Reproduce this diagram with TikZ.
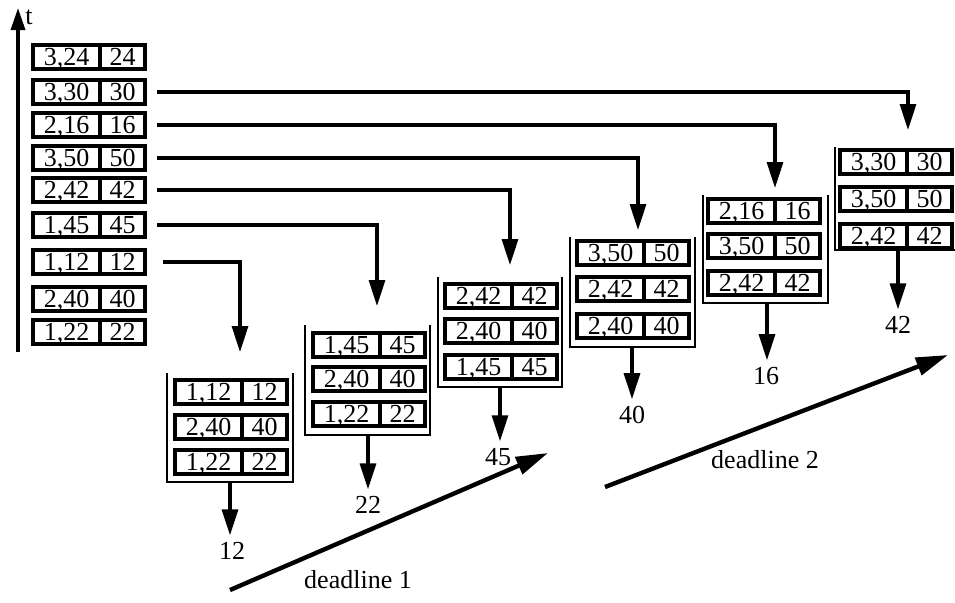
\documentclass[tikz,border=0pt]{standalone}
\usepackage{fontspec}
\setmainfont{Liberation Serif}
\usetikzlibrary{arrows.meta, positioning}

% one key/value entry: name, x (left edge), y (centre), key, value
\newcommand{\slot}[5]{%
  \node[keycell] (#1) at (#2,#3) {#4};
  \node[valcell, right=0pt of #1] (#1v) {#5};}

\begin{document}
\begin{tikzpicture}[x=0.5pt, y=-0.5pt, font=\fontsize{13}{15}\selectfont,
  cell/.style={draw, line width=1.7pt, minimum height=12pt, inner sep=0pt,
    outer sep=0pt, text height=8.6pt, text depth=0pt},
  keycell/.style={cell, anchor=west, minimum width=33.5pt},
  valcell/.style={cell, minimum width=22.5pt},
  feed/.style={line width=1.6pt, -{Triangle[length=13pt, width=8pt]}},
  bracket/.style={line width=1.1pt},
  deadline/.style={line width=2.2pt, -{Triangle[length=16pt, width=9pt]}}]
  \useasboundingbox (0,0) rectangle (955,602);

  % time axis
  \coordinate (t0) at (18,352);
  \coordinate (t1) at (18,8);
  \node (t) at (29,17) {t};
  \draw[line width=1.7pt, -{Triangle[length=11pt, width=7pt]}] (t0) -- (t1);

  % arrival column
  \slot{c24}{33}{57}{3,24}{24}
  \slot{c30}{33}{92}{3,30}{30}
  \slot{c16}{33}{125}{2,16}{16}
  \slot{c50}{33}{158}{3,50}{50}
  \slot{c42}{33}{190}{2,42}{42}
  \slot{c45}{33}{225}{1,45}{45}
  \slot{c12}{33}{262}{1,12}{12}
  \slot{c40}{33}{299}{2,40}{40}
  \slot{c22}{33}{332}{1,22}{22}

  % queue 1
  \slot{s1a}{175}{392}{1,12}{12}
  \slot{s1b}{175}{427}{2,40}{40}
  \slot{s1c}{175}{462}{1,22}{22}
  \draw[bracket] (167,373) |- (293,482) -- (293,373);
  % queue 2
  \slot{s2a}{313}{345}{1,45}{45}
  \slot{s2b}{313}{379}{2,40}{40}
  \slot{s2c}{313}{414}{1,22}{22}
  \draw[bracket] (305,325) |- (430,435) -- (430,325);
  % queue 3
  \slot{s3a}{445}{296}{2,42}{42}
  \slot{s3b}{445}{331}{2,40}{40}
  \slot{s3c}{445}{367}{1,45}{45}
  \draw[bracket] (438,277) |- (562,387) -- (562,277);
  % queue 4
  \slot{s4a}{577}{253}{3,50}{50}
  \slot{s4b}{577}{289}{2,42}{42}
  \slot{s4c}{577}{326}{2,40}{40}
  \draw[bracket] (570,237) |- (695,347) -- (695,237);
  % queue 5
  \slot{s5a}{708}{211}{2,16}{16}
  \slot{s5b}{708}{246}{3,50}{50}
  \slot{s5c}{708}{283}{2,42}{42}
  \draw[bracket] (703,195) |- (828,303) -- (828,195);
  % queue 6
  \slot{s6a}{840}{162}{3,30}{30}
  \slot{s6b}{840}{199}{3,50}{50}
  \slot{s6c}{840}{236}{2,42}{42}
  \draw[bracket] (835,147) |- (958,250) -- (958,147);

  % arrivals into the queues
  \coordinate (in1) at (240,352);
  \coordinate (in2) at (377,306);
  \coordinate (in3) at (510,265);
  \coordinate (in4) at (638,230);
  \coordinate (in5) at (775,188);
  \coordinate (in6) at (908,130);
  \draw[feed] ([xshift=9pt]c12v.east) -| (in1);
  \draw[feed] ([xshift=6pt]c45v.east) -| (in2);
  \draw[feed] ([xshift=6pt]c42v.east) -| (in3);
  \draw[feed] ([xshift=6pt]c50v.east) -| (in4);
  \draw[feed] ([xshift=6pt]c16v.east) -| (in5);
  \draw[feed] ([xshift=6pt]c30v.east) -| (in6);

  % served entries
  \coordinate (b1) at (230,482);
  \coordinate (b2) at (368,435);
  \coordinate (b3) at (500,387);
  \coordinate (b4) at (632,347);
  \coordinate (b5) at (767,303);
  \coordinate (b6) at (898,250);
  \node (o1) at (232,551) {12};
  \node (o2) at (368,505) {22};
  \node (o3) at (498,457) {45};
  \node (o4) at (632,415) {40};
  \node (o5) at (766,376) {16};
  \node (o6) at (898,325) {42};
  \draw[feed] (b1) -- (b1 |- o1.north);
  \draw[feed] (b2) -- (b2 |- o2.north);
  \draw[feed] (b3) -- (b3 |- o3.north);
  \draw[feed] (b4) -- (b4 |- o4.north);
  \draw[feed] (b5) -- (b5 |- o5.north);
  \draw[feed] (b6) -- (b6 |- o6.north);

  % deadlines
  \coordinate (d1s) at (230,590);
  \coordinate (d1e) at (548,453);
  \coordinate (d2s) at (605,487);
  \coordinate (d2e) at (948,355);
  \draw[deadline] (d1s) -- (d1e);
  \draw[deadline] (d2s) -- (d2e);
  \node (dl1) at (358,580) {deadline 1};
  \node (dl2) at (765,460) {deadline 2};
\end{tikzpicture}
\end{document}
